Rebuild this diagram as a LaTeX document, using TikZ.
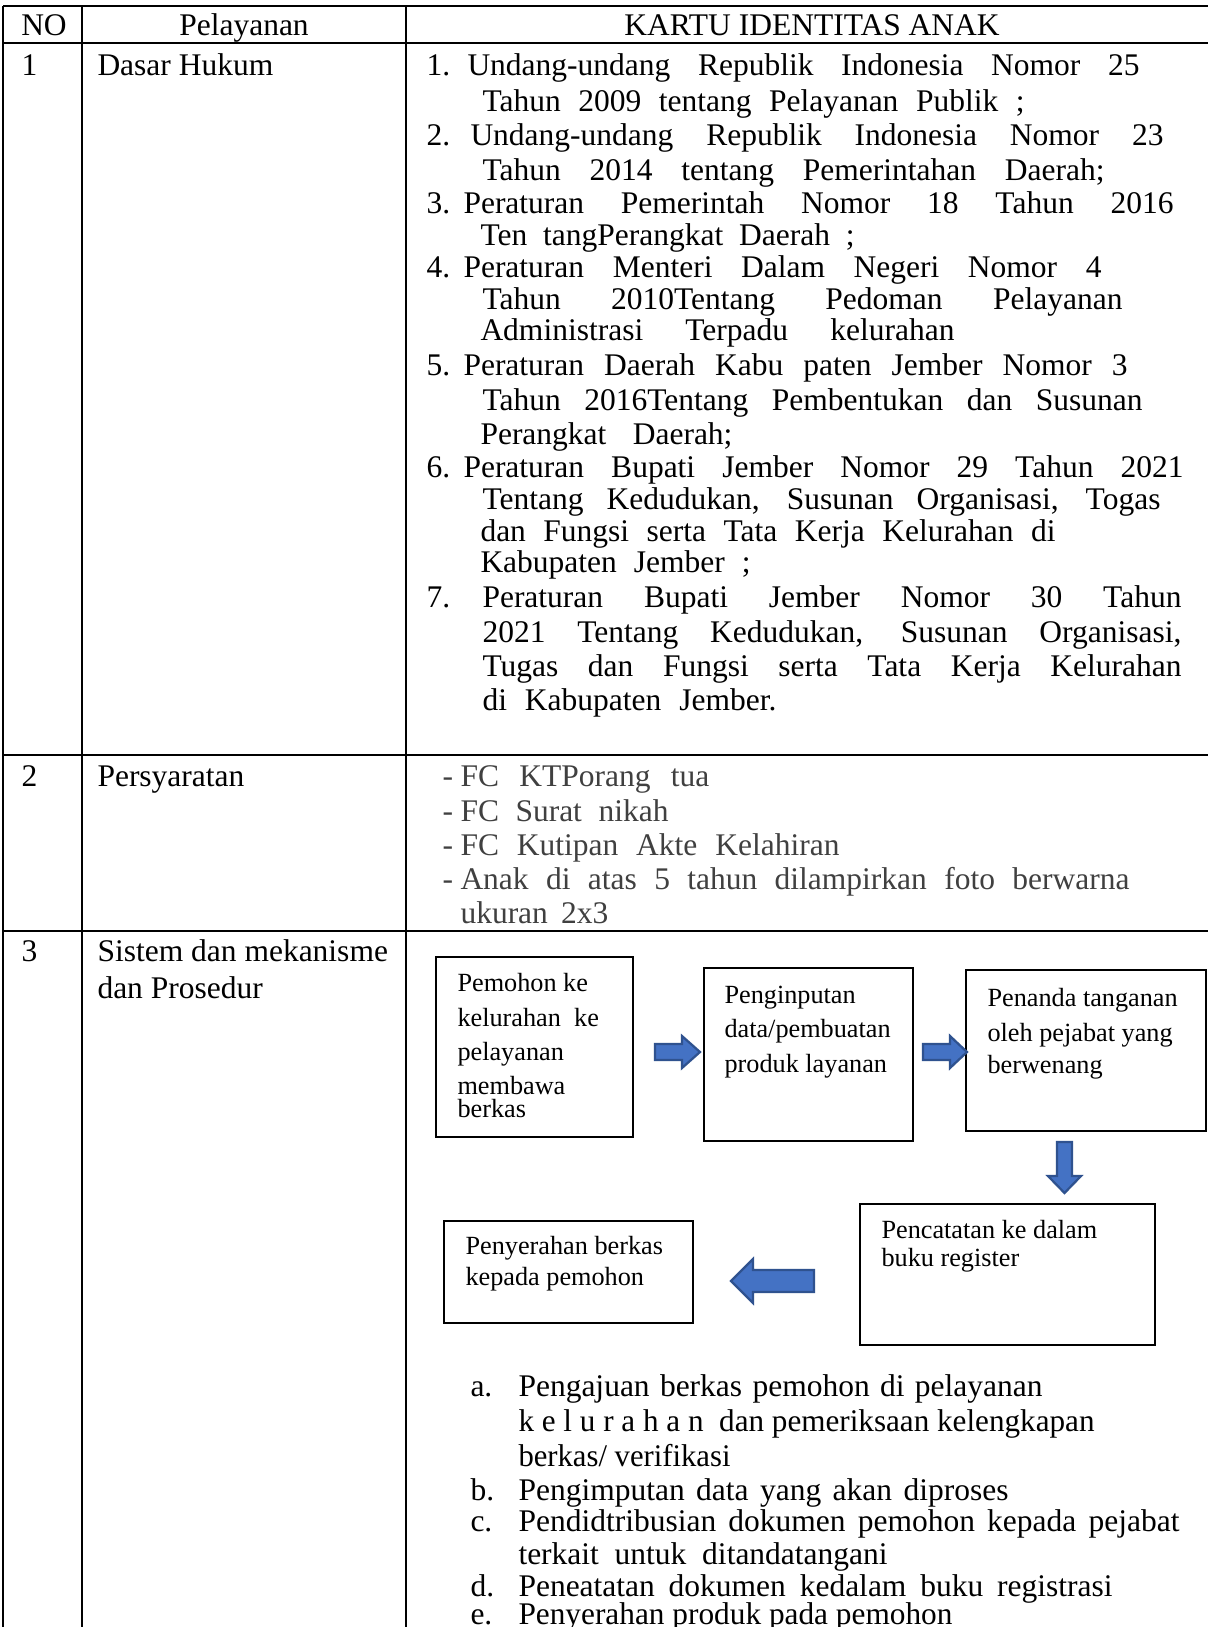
\documentclass[tikz,border=0pt]{standalone}
\usepackage{fontspec}
\setmainfont{Liberation Serif}
\usepackage{graphicx}
\definecolor{pgray}{RGB}{64,64,64}
\definecolor{arrowblue}{RGB}{68,114,196}
\definecolor{arrowedge}{RGB}{47,82,143}
\newdimen\fitw
\newcommand\fitto[2]{\fitw=#1pt\fitw=0.4\fitw\setbox0=\hbox{#2}\ifdim\wd0>\fitw\resizebox{\fitw}{\height}{\copy0}\else\makebox[\fitw][s]{#2}\fi}
\tikzset{
  tl/.style={line width=0.85pt},
  txt/.style={anchor=base west, inner sep=0pt, font=\fontsize{12.6}{15}\selectfont},
  ctr/.style={anchor=base, inner sep=0pt, font=\fontsize{12.6}{15}\selectfont},
  btx/.style={anchor=base west, inner sep=0pt, font=\fontsize{10.5}{13}\selectfont},
  gtx/.style={txt, text=pgray},
  flow/.style={draw, line width=0.55pt, anchor=north west, inner sep=0pt, outer sep=0pt},
  barrow/.style={fill=arrowblue, draw=arrowedge, line width=0.9pt, line join=miter}
}
\begin{document}
\begin{tikzpicture}[x=0.4pt, y=-0.4pt]
\useasboundingbox (0,0) rectangle (1208,1627);
\fill[white] (0,0) rectangle (1208,1627);
% table grid
\draw[tl] (3,6) -- (1208,6);
\draw[tl] (3,43) -- (1208,43);
\draw[tl] (3,755) -- (1208,755);
\draw[tl] (3,931) -- (1208,931);
\draw[tl] (3,6) -- (3,1627);
\draw[tl] (82,6) -- (82,1627);
\draw[tl] (406,6) -- (406,1627);
% header
\node[ctr] (hno) at (44,35) {NO};
\node[ctr] (hpel) at (244,35) {Pelayanan};
\node[ctr] (hkia) at (812,35) {KARTU IDENTITAS ANAK};
% row 1
\node[txt] (r1no) at (21,75) {1};
\node[txt] (r1t) at (97,75) {Dasar Hukum};
\node[txt] (n1) at (426,75) {1.};
\node[txt] (d1a) at (467,75) {\fitto{672}{Undang-undang Republik Indonesia Nomor 25}};
\node[txt] (d1b) at (482,111) {\fitto{542}{Tahun 2009 tentang Pelayanan Publik ;}};
\node[txt] (n2) at (426,145) {2.};
\node[txt] (d2a) at (470,145) {\fitto{693}{Undang-undang Republik Indonesia Nomor 23}};
\node[txt] (d2b) at (482,180) {\fitto{622}{Tahun 2014 tentang Pemerintahan Daerah;}};
\node[txt] (n3) at (426,213) {3.};
\node[txt] (d3a) at (463,213) {\fitto{710}{Peraturan Pemerintah Nomor 18 Tahun 2016}};
\node[txt] (d3b) at (480,245) {\fitto{374}{Ten tangPerangkat Daerah ;}};
\node[txt] (n4) at (426,277) {4.};
\node[txt] (d4a) at (463,277) {\fitto{638}{Peraturan Menteri Dalam Negeri Nomor 4}};
\node[txt] (d4b) at (482,309) {\fitto{640}{Tahun 2010Tentang Pedoman Pelayanan}};
\node[txt] (d4c) at (480,340) {\fitto{474}{Administrasi Terpadu kelurahan}};
\node[txt] (n5) at (426,375) {5.};
\node[txt] (d5a) at (463,375) {\fitto{664}{Peraturan Daerah Kabu paten Jember Nomor 3}};
\node[txt] (d5b) at (482,410) {\fitto{660}{Tahun 2016Tentang Pembentukan dan Susunan}};
\node[txt] (d5c) at (480,444) {\fitto{252}{Perangkat Daerah;}};
\node[txt] (n6) at (426,477) {6.};
\node[txt] (d6a) at (463,477) {\fitto{720}{Peraturan Bupati Jember Nomor 29 Tahun 2021}};
\node[txt] (d6b) at (482,509) {\fitto{678}{Tentang Kedudukan, Susunan Organisasi, Togas}};
\node[txt] (d6c) at (480,541) {\fitto{575}{dan Fungsi serta Tata Kerja Kelurahan di}};
\node[txt] (d6d) at (480,572) {\fitto{270}{Kabupaten Jember ;}};
\node[txt] (n7) at (426,607) {7.};
\node[txt] (d7a) at (482,607) {\fitto{699}{Peraturan Bupati Jember Nomor 30 Tahun}};
\node[txt] (d7b) at (482,642) {\fitto{699}{2021 Tentang Kedudukan, Susunan Organisasi,}};
\node[txt] (d7c) at (482,676) {\fitto{699}{Tugas dan Fungsi serta Tata Kerja Kelurahan}};
\node[txt] (d7d) at (482,710) {\fitto{294}{di Kabupaten Jember.}};
% row 2
\node[txt] (r2no) at (21,786) {2};
\node[txt] (r2t) at (97,786) {Persyaratan};
\node[gtx] (s1d) at (442,786) {-};
\node[gtx] (s1) at (460,786) {\fitto{249}{FC KTPorang tua}};
\node[gtx] (s2d) at (442,821) {-};
\node[gtx] (s2) at (460,821) {\fitto{208}{FC Surat nikah}};
\node[gtx] (s3d) at (442,855) {-};
\node[gtx] (s3) at (460,855) {\fitto{379}{FC Kutipan Akte Kelahiran}};
\node[gtx] (s4d) at (442,889) {-};
\node[gtx] (s4) at (460,889) {\fitto{669}{Anak di atas 5 tahun dilampirkan foto berwarna}};
\node[gtx] (s5) at (460,923) {\fitto{148}{ukuran 2x3}};
% row 3
\node[txt] (r3no) at (21,961) {3};
\node[txt] (r3t) at (97,961) {Sistem dan mekanisme};
\node[txt] (r3u) at (97,998) {dan Prosedur};
% flow boxes
\node[flow, minimum width=78.8pt, minimum height=72pt] (b1) at (436,957) {};
\node[flow, minimum width=83.6pt, minimum height=69.2pt] (b2) at (704,968) {};
\node[flow, minimum width=96pt, minimum height=64.4pt] (b3) at (966,970) {};
\node[flow, minimum width=118pt, minimum height=56.4pt] (b4) at (860,1204) {};
\node[flow, minimum width=99.6pt, minimum height=40.8pt] (b5) at (444,1221) {};
\node[btx] (t1a) at (457,991) {Pemohon ke};
\node[btx] (t1b) at (457,1026) {kelurahan\ \ ke};
\node[btx] (t1c) at (457,1060) {pelayanan};
\node[btx] (t1d) at (457,1094) {membawa};
\node[btx] (t1e) at (457,1117) {berkas};
\node[btx] (t2a) at (724,1003) {Penginputan};
\node[btx] (t2b) at (724,1037) {data/pembuatan};
\node[btx] (t2c) at (724,1072) {produk layanan};
\node[btx] (t3a) at (987,1006) {Penanda tanganan};
\node[btx] (t3b) at (987,1041) {oleh pejabat yang};
\node[btx] (t3c) at (987,1073) {berwenang};
\node[btx] (t4a) at (881,1238) {Pencatatan ke dalam};
\node[btx] (t4b) at (881,1266) {buku register};
\node[btx] (t5a) at (465,1254) {Penyerahan berkas};
\node[btx] (t5b) at (465,1285) {kepada pemohon};
% block arrows
\draw[barrow] (655,1044) -- (682,1044) -- (682,1036) -- (700,1052) -- (682,1068) -- (682,1060) -- (655,1060) -- cycle;
\draw[barrow] (923,1044) -- (950,1044) -- (950,1036) -- (967,1052) -- (950,1068) -- (950,1060) -- (923,1060) -- cycle;
\draw[barrow] (1057,1142) -- (1072,1142) -- (1072,1176) -- (1081,1176) -- (1064.5,1193) -- (1048,1176) -- (1057,1176) -- cycle;
\draw[barrow] (814,1270) -- (753,1270) -- (753,1259) -- (731,1281) -- (753,1303) -- (753,1292) -- (814,1292) -- cycle;
% procedure list
\node[txt] (la) at (470,1396) {a.};
\node[txt] (pa1) at (518,1396) {\fitto{524}{Pengajuan berkas pemohon di pelayanan}};
\node[txt] (pa2) at (518,1431) {\fitto{576}{k e l u r a h a n \ dan pemeriksaan kelengkapan}};
\node[txt] (pa3) at (518,1466) {\fitto{212}{berkas/ verifikasi}};
\node[txt] (lb) at (470,1500) {b.};
\node[txt] (pb) at (518,1500) {\fitto{490}{Pengimputan data yang akan diproses}};
\node[txt] (lc) at (470,1531) {c.};
\node[txt] (pc1) at (518,1531) {\fitto{661}{Pendidtribusian dokumen pemohon kepada pejabat}};
\node[txt] (pc2) at (518,1564) {terkait\ \ untuk\ \ ditandatangani};
\node[txt] (ld) at (470,1596) {d.};
\node[txt] (pd) at (518,1596) {\fitto{594}{Peneatatan dokumen kedalam buku registrasi}};
\node[txt] (le) at (470,1624) {e.};
\node[txt] (pe) at (518,1624) {\fitto{434}{Penyerahan produk pada pemohon}};
\end{tikzpicture}
\end{document}
